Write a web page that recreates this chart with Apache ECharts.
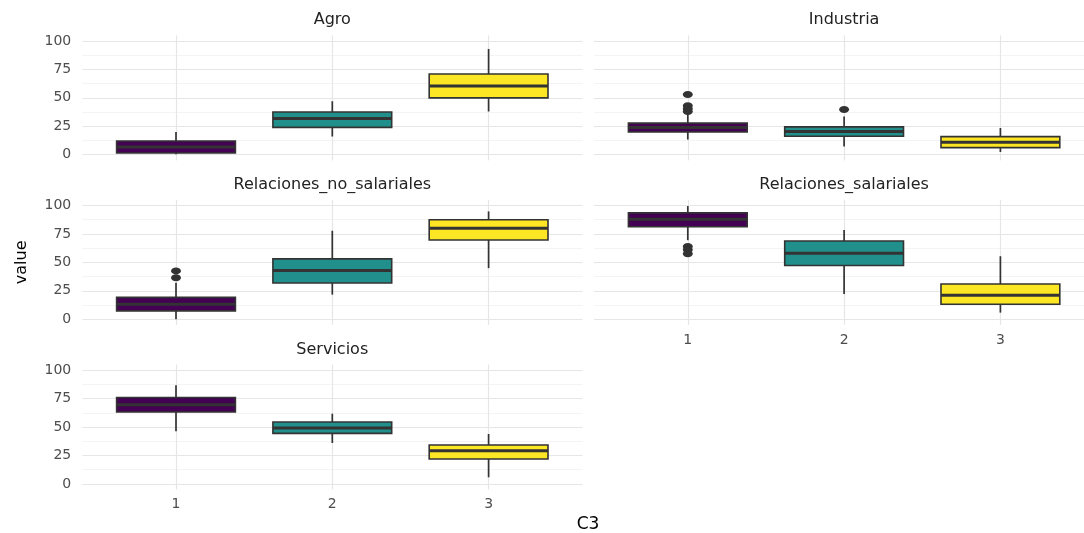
<!DOCTYPE html>
<html>
<head>
<meta charset="utf-8">
<script src="https://cdn.jsdelivr.net/npm/echarts@6/dist/echarts.min.js"></script>
<style>
html,body{margin:0;padding:0;background:#fff;}
#chart{width:1084px;height:533px;}
</style>
</head>
<body>
<div id="chart"></div>
<script>
// ---------- DATA ----------
const categories = ['1', '2', '3'];
const panelNames = ['Agro', 'Industria', 'Relaciones_no_salariales', 'Relaciones_salariales', 'Servicios'];
const yTicks = [0, 25, 50, 75, 100];
// box stats per category: [lower whisker, Q1, median, Q3, upper whisker]
const agroBox       = [[0.3, 1.5, 6.8, 12.0, 20.0], [16.0, 24.0, 31.8, 37.6, 47.0], [38.0, 50.0, 60.5, 71.0, 93.0]];
const industriaBox  = [[13.3, 20.0, 24.0, 27.8, 36.0], [7.3, 16.2, 20.5, 24.5, 33.5], [2.4, 6.2, 11.0, 15.9, 23.5]];
const relNoSalBox   = [[0.0, 7.3, 13.1, 19.2, 32.0], [21.6, 31.8, 42.9, 53.1, 77.8], [44.9, 69.7, 79.9, 87.5, 94.8]];
const relSalBox     = [[69.5, 81.3, 87.8, 93.5, 99.5], [22.2, 47.2, 58.0, 68.8, 78.4], [5.8, 13.1, 21.0, 30.9, 55.4]];
const serviciosBox  = [[46.2, 63.2, 69.6, 76.0, 86.8], [36.0, 44.4, 49.1, 54.4, 61.7], [5.8, 21.9, 29.2, 34.2, 43.9]];
// outliers per category
const agroOut      = [[], [], []];
const industriaOut = [[53, 43, 40.5, 38], [39.7], []];
const relNoSalOut  = [[42.5, 36.5], [], []];
const relSalOut    = [[64, 61, 57.5], [], []];
const serviciosOut = [[], [], []];

// ---------- STYLE / LAYOUT ----------
const fills = ['#440154', '#21908C', '#FDE725'];
const lineCol = '#333333';
const gridCol = '#e6e6e6';
const minorCol = '#f3f3f3';
const tickCol = '#4d4d4d';
const font = 'DejaVu Sans';

const panels = [
  {name: panelNames[0], box: agroBox,      out: agroOut,      col: 0, row: 0, yLab: true,  xLab: false},
  {name: panelNames[1], box: industriaBox, out: industriaOut, col: 1, row: 0, yLab: false, xLab: false},
  {name: panelNames[2], box: relNoSalBox,  out: relNoSalOut,  col: 0, row: 1, yLab: true,  xLab: false, yName: 'value'},
  {name: panelNames[3], box: relSalBox,    out: relSalOut,    col: 1, row: 1, yLab: false, xLab: true},
  {name: panelNames[4], box: serviciosBox, out: serviciosOut, col: 0, row: 2, yLab: true,  xLab: true}
];
const rowTop = [41, 205.5, 370.2];   // pixel of value 100
const rowH = 113.7;                  // pixels from 100 to 0
const colCat1 = [176, 687.8];        // pixel of first category
const step = 156.3;                  // pixels between categories
const chartW = 1084;

const grid = [], xAxis = [], yAxis = [], series = [], title = [];
const catData = [''].concat(categories);

panels.forEach((p, i) => {
  const bgIdx = 2 * i, fgIdx = 2 * i + 1;
  const left0 = colCat1[p.col];
  const bgLeft = left0 - 0.6 * step;
  const bgW = Math.min(3.2 * step, chartW - bgLeft);
  // background grid (horizontal grid lines + y labels)
  grid.push({left: bgLeft, width: bgW, top: rowTop[p.row], height: rowH, containLabel: false});
  // foreground grid (boxes), padded 5% each side in y; runs from a blank slot to category 3
  grid.push({left: left0 - step, width: 3 * step, top: rowTop[p.row] - 0.05 * rowH, height: 1.1 * rowH, containLabel: false});

  xAxis.push({gridIndex: bgIdx, type: 'value', min: 0, max: 1, show: false});
  yAxis.push({
    gridIndex: bgIdx, type: 'value', min: 0, max: 100, interval: 25,
    axisLine: {show: false}, axisTick: {show: false},
    axisLabel: {show: p.yLab, color: tickCol, fontSize: 14, fontFamily: font, margin: 11,
      formatter: v => (yTicks.indexOf(v) >= 0 ? String(v) : '')},
    splitLine: {show: true, lineStyle: {color: gridCol, width: 1.2}},
    minorTick: {show: false, splitNumber: 2},
    minorSplitLine: {show: true, lineStyle: {color: minorCol, width: 0.9}},
    name: p.yName || '', nameLocation: 'middle', nameGap: 52, nameRotate: 90,
    nameTextStyle: {color: '#000', fontSize: 16, fontFamily: font}
  });
  xAxis.push({
    gridIndex: fgIdx, type: 'category', data: catData, boundaryGap: false,
    axisLine: {show: false}, axisTick: {show: false},
    axisLabel: {show: p.xLab, interval: 0, color: tickCol, fontSize: 14, fontFamily: font, margin: 8},
    splitLine: {show: true, interval: (idx) => idx >= 1, lineStyle: {color: gridCol, width: 1.2}}
  });
  yAxis.push({gridIndex: fgIdx, type: 'value', min: -5, max: 105, show: false});

  const boxData = p.box.map((b, k) => [k + 1, b[0], b[1], b[2], b[3], b[4], k]);
  series.push({
    type: 'custom', xAxisIndex: fgIdx, yAxisIndex: fgIdx, silent: true,
    encode: {x: 0, y: [1, 2, 3, 4, 5]},
    data: boxData,
    renderItem: (params, api) => {
      const x = api.value(0);
      const c = v => api.coord([x, v]);
      const pLo = c(api.value(1)), pQ1 = c(api.value(2)), pMed = c(api.value(3)),
            pQ3 = c(api.value(4)), pHi = c(api.value(5));
      const st = api.coord([x, 0])[0] - api.coord([x - 1, 0])[0];
      const hw = st * 0.38;
      const fill = fills[api.value(6)];
      return {
        type: 'group',
        children: [
          {type: 'line', shape: {x1: pLo[0], y1: pLo[1], x2: pHi[0], y2: pHi[1]},
           style: {stroke: lineCol, lineWidth: 1.7}},
          {type: 'rect', shape: {x: pQ1[0] - hw, y: pQ3[1], width: 2 * hw, height: pQ1[1] - pQ3[1]},
           style: {fill: fill, stroke: lineCol, lineWidth: 1.6}},
          {type: 'line', shape: {x1: pMed[0] - hw, y1: pMed[1], x2: pMed[0] + hw, y2: pMed[1]},
           style: {stroke: lineCol, lineWidth: 3}}
        ]
      };
    },
    z: 3
  });

  const outData = [];
  p.out.forEach((arr, k) => arr.forEach(v => outData.push([k + 1, v])));
  series.push({
    type: 'scatter', xAxisIndex: fgIdx, yAxisIndex: fgIdx, silent: true,
    data: outData,
    symbol: 'path://M0 5 A5 5 0 1 1 10 5 A5 5 0 1 1 0 5 Z',
    symbolSize: [10, 7], symbolKeepAspect: false,
    itemStyle: {color: lineCol, opacity: 1},
    z: 4
  });

  title.push({
    text: p.name, left: left0 + step, top: rowTop[p.row] - 0.05 * rowH - 23,
    textAlign: 'center', padding: 0,
    textStyle: {color: '#222', fontSize: 16, fontWeight: 'normal', fontFamily: font}
  });
});

title.push({
  text: 'C3', left: 588, top: 516, textAlign: 'center', padding: 0,
  textStyle: {color: '#000', fontSize: 17, fontWeight: 'normal', fontFamily: font}
});

const chart = echarts.init(document.getElementById('chart'), null, {renderer: 'canvas'});
chart.setOption({
  backgroundColor: '#ffffff',
  animation: false,
  title, grid, xAxis, yAxis, series
});
</script>
</body>
</html>
